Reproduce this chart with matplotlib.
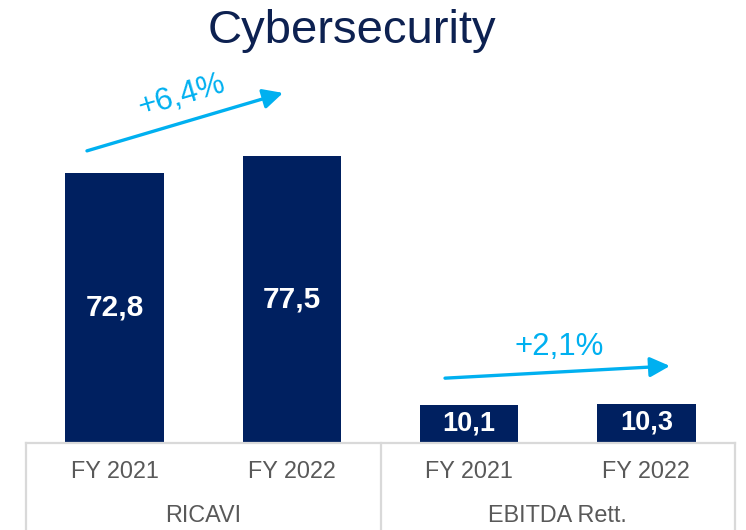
import matplotlib
matplotlib.use("Agg")
import matplotlib.pyplot as plt
from matplotlib.lines import Line2D
from matplotlib.transforms import blended_transform_factory

plt.rcParams['font.family'] = ['Liberation Sans', 'DejaVu Sans']

# ---- data ----
title = "Cybersecurity"
groups = ["RICAVI", "EBITDA Rett."]
periods = ["FY 2021", "FY 2022"]
ricavi = [72.8, 77.5]
ebitda = [10.1, 10.3]
growth = ["+6,4%", "+2,1%"]

values = ricavi + ebitda
labels = periods + periods
NAVY = "#002060"
CYAN = "#00b0f0"
GRID = "#d9d9d9"
TXT = "#595959"

W, H = 746, 530
fig = plt.figure(figsize=(W / 100, H / 100), dpi=100)
base_px, top_px, left_px, right_px = 442, 60, 26, 735
ax = fig.add_axes([left_px / W, (H - base_px) / H, (right_px - left_px) / W, (base_px - top_px) / H])
ymax = (base_px - top_px) / 3.69
ax.set_xlim(-0.5, 3.5)
ax.set_ylim(0, ymax)
ax.axis("off")

xs = range(len(values))
ax.bar(xs, values, width=0.555, color=NAVY)
fmt = lambda v: f"{v:.1f}".replace(".", ",")
for x, v in zip(xs, values):
    ax.text(x, v / 2, fmt(v), ha="center", va="center", color="white",
            fontsize=21.5 if v > 30 else 19.5, fontweight="bold")

# category / group labels below the baseline
tr = blended_transform_factory(ax.transData, ax.transAxes)
for x, lab in zip(xs, labels):
    ax.text(x, -30 / (base_px - top_px), lab, transform=tr, ha="center", va="center",
            fontsize=16.8, color=TXT)
for i, g in enumerate(groups):
    ax.text(2 * i + 0.5, -73 / (base_px - top_px), g, transform=tr, ha="center",
            va="center", fontsize=16.8, color=TXT)

# table-like separator lines
yb = (H - base_px - 1) / H
fig.add_artist(Line2D([left_px / W, right_px / W], [yb, yb], color=GRID, lw=1.6))
for px in (left_px, (left_px + right_px) / 2 + 1, right_px):
    fig.add_artist(Line2D([px / W, px / W], [0, yb], color=GRID, lw=1.6))

# growth arrows
arrows = [((-0.156, 78.9), (0.95, 94.6)), ((1.864, 17.3), (3.133, 20.6))]
texts = [((0.38, 93.8), 16.5), ((2.507, 25.7), 0)]
for (s, e), ((tx, ty), rot), g in zip(arrows, texts, growth):
    ax.annotate("", xy=e, xytext=s,
                arrowprops=dict(arrowstyle="-|>,head_length=0.6,head_width=0.3",
                                mutation_scale=20, color=CYAN, lw=2.4,
                                shrinkA=0, shrinkB=0))
    ax.text(tx, ty, g, ha="center", va="center", rotation=rot, color=CYAN, fontsize=22.5)

fig.text(351.5 / W, 1 - 31 / H, title, ha="center", va="center", fontsize=34, color="#0d2151")

fig.savefig("out.png", dpi=100)
